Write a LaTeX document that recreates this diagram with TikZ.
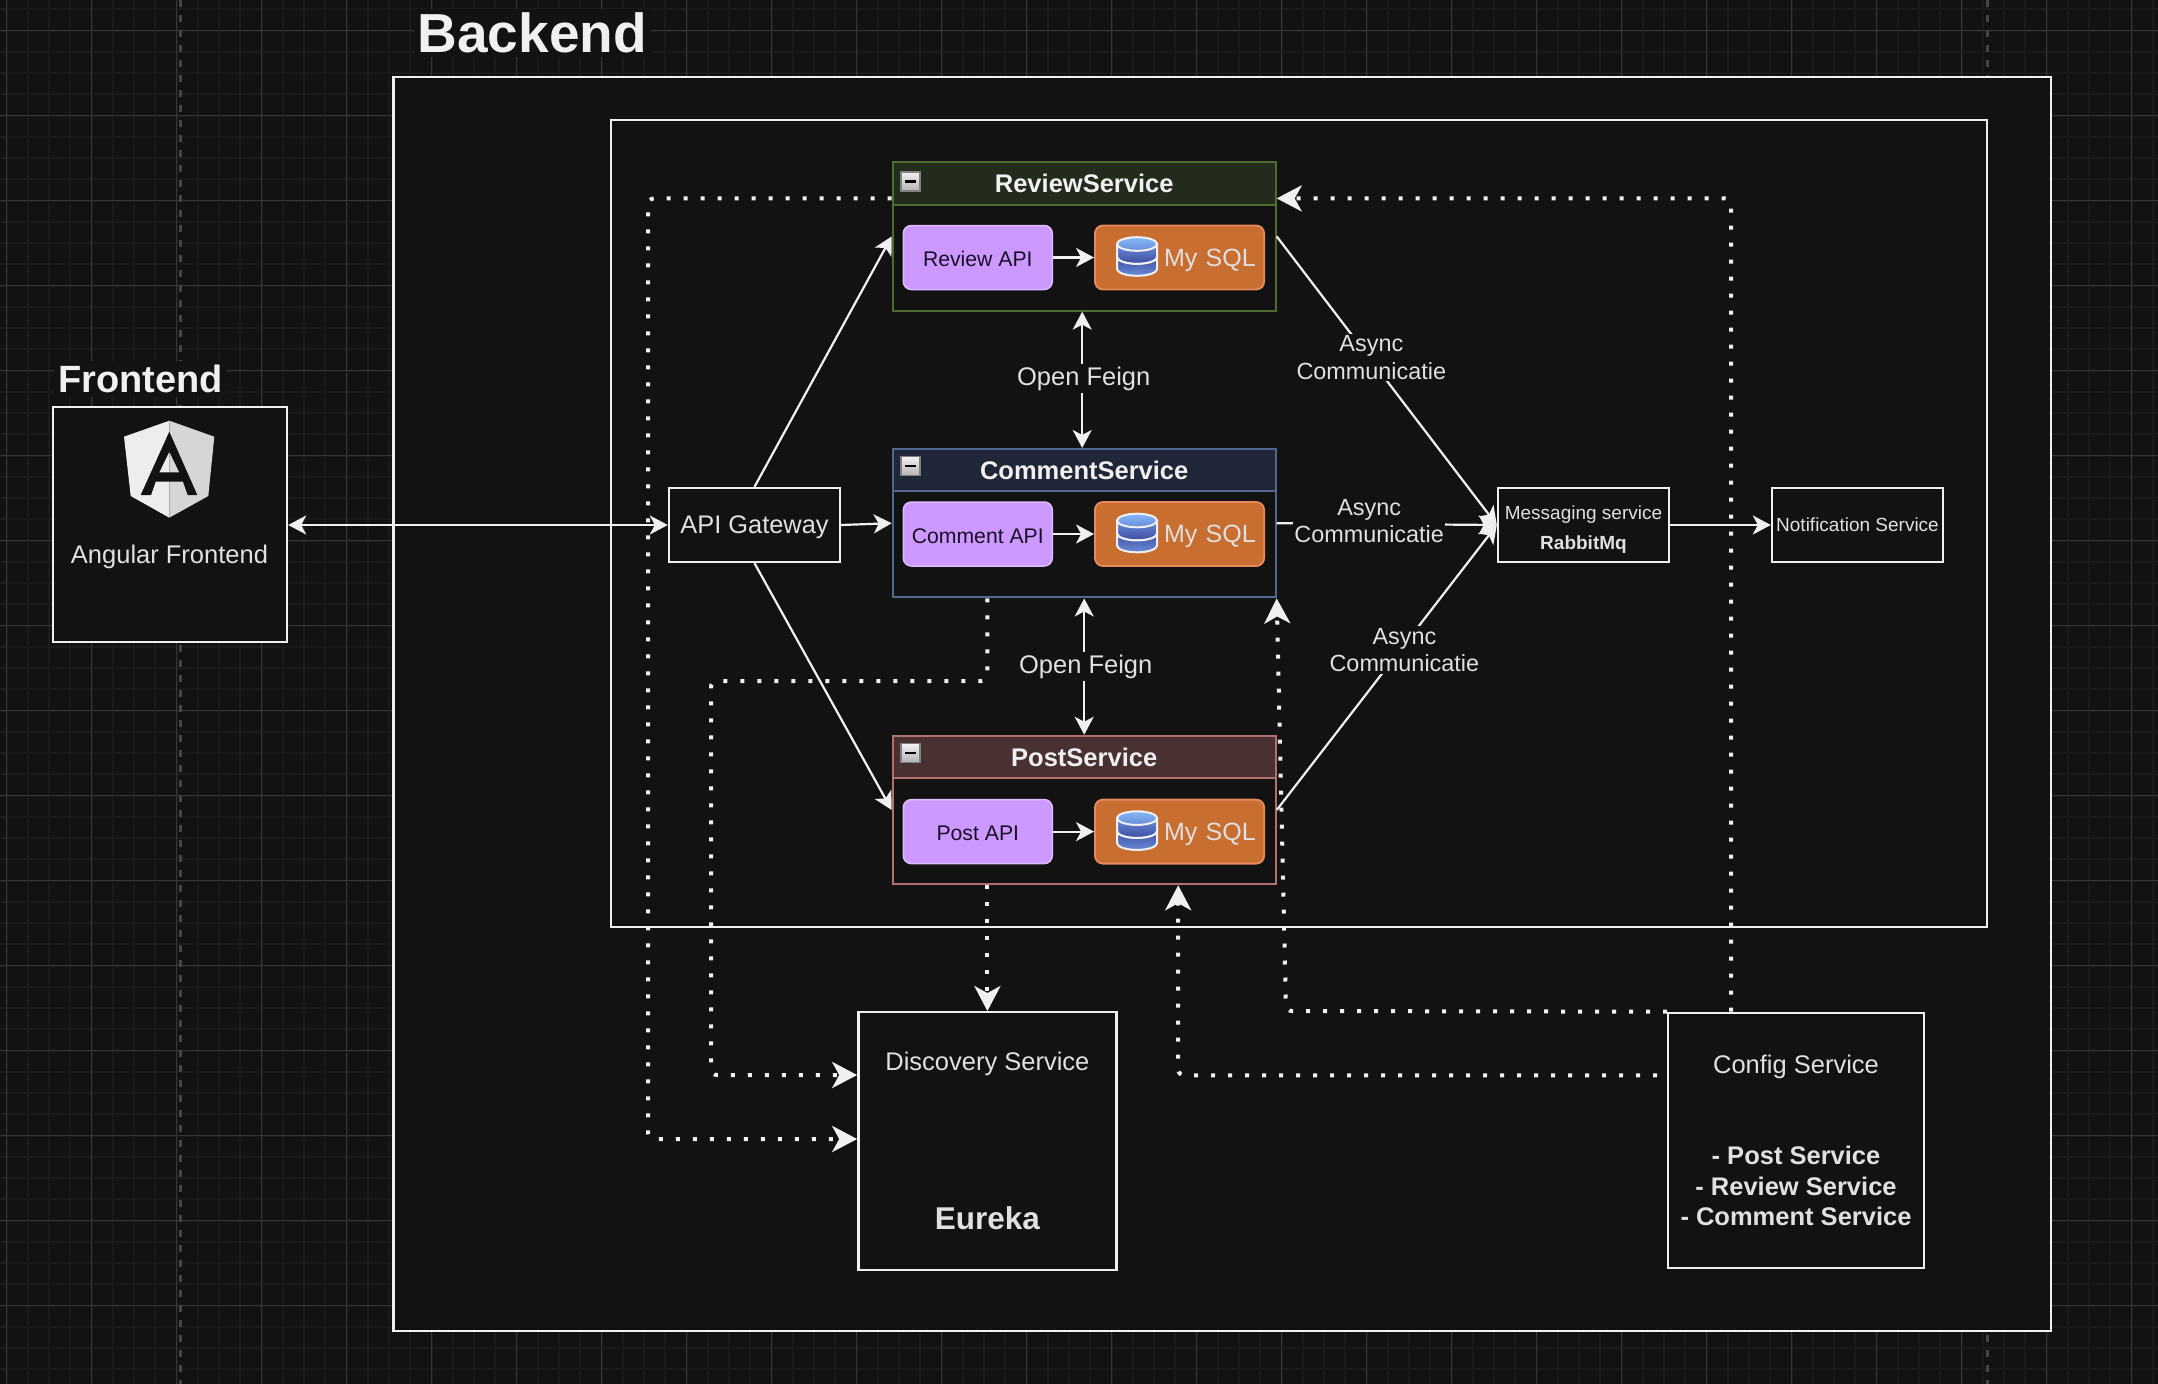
\documentclass[tikz,border=0pt]{standalone}
\usepackage{fontspec}
\setmainfont{Liberation Sans}
\usetikzlibrary{arrows.meta,positioning}
\definecolor{pagebg}{HTML}{121212}
\definecolor{gridminor}{HTML}{1A1A1A}
\definecolor{gridmajor}{HTML}{363636}
\definecolor{dashline}{HTML}{454545}
\definecolor{ink}{HTML}{F0F0F0}
\definecolor{txt}{HTML}{E0E0E0}
\definecolor{reviewfill}{HTML}{232C1C}
\definecolor{reviewline}{HTML}{4F6B2F}
\definecolor{commentfill}{HTML}{1F2638}
\definecolor{commentline}{HTML}{52678F}
\definecolor{postfill}{HTML}{4A3131}
\definecolor{postline}{HTML}{B0706C}
\definecolor{apifill}{HTML}{CC99FF}
\definecolor{apiline}{HTML}{DDBBFF}
\definecolor{apitxt}{HTML}{1A0F26}
\definecolor{dbfill}{HTML}{C76E30}
\definecolor{dbline}{HTML}{E88A60}
\definecolor{cylsky}{HTML}{84B8F8}
\definecolor{cylmid}{HTML}{6A8CD8}
\definecolor{cyldark}{HTML}{3E4EA2}
\tikzstyle{box}=[rectangle,draw=ink,line width=2.4pt,fill=pagebg,text=txt,align=center,inner sep=0pt,font=\fontsize{25.5}{30.5}\selectfont]
\tikzstyle{smallbox}=[box,minimum width=171pt,minimum height=74pt,font=\fontsize{19}{30}\selectfont]
\tikzstyle{bigtitle}=[fill=pagebg,text=ink,inner sep=4pt,font=\fontsize{38}{40}\selectfont\bfseries]
\tikzstyle{lane}=[rectangle,line width=2pt,fill=pagebg,minimum width=383pt,minimum height=148.5pt]
\tikzstyle{lanehead}=[rectangle,line width=2pt,anchor=north,minimum width=383pt,minimum height=42.5pt,text=ink,font=\fontsize{25.5}{30}\selectfont\bfseries]
\tikzstyle{minusbtn}=[rectangle,draw=gray,line width=1.5pt,top color=white!90!gray,bottom color=gray!60,minimum size=19pt,inner sep=0pt]
\tikzstyle{api}=[rectangle,rounded corners=8pt,draw=apiline,line width=1.5pt,fill=apifill,text=apitxt,minimum width=149pt,minimum height=64pt,inner sep=0pt,text height=18pt,text depth=0pt,font=\fontsize{21.2}{25}\selectfont]
\tikzstyle{db}=[rectangle,rounded corners=8pt,draw=dbline,line width=1.8pt,fill=dbfill,text=txt,minimum height=64pt,text width=152.4pt,inner xsep=8.4pt,inner ysep=0pt,text depth=0pt,align=right,font=\fontsize{25}{30}\selectfont]
\tikzstyle{arr}=[-{Stealth[length=18pt,width=19pt,inset=5pt]},line width=2.2pt,draw=ink]
\tikzstyle{darr}=[{Stealth[length=18pt,width=19pt,inset=5pt]}-{Stealth[length=18pt,width=19pt,inset=5pt]},line width=2.2pt,draw=ink]
\tikzstyle{dotarr}=[-{Stealth[length=25pt,width=26pt,inset=7pt]},draw=ink,line width=4pt,dash pattern=on 4pt off 13pt,rounded corners=6pt]
\tikzstyle{feign}=[fill=pagebg,text=txt,inner sep=3pt,xshift=1.5pt,font=\fontsize{25.5}{30}\selectfont]
\tikzstyle{async}=[fill=pagebg,text=txt,inner xsep=1pt,inner ysep=2pt,align=center,font=\fontsize{23.4}{27.5}\selectfont]
\tikzset{dbicon/.pic={
  \path[draw=ink,line width=2pt,top color=cylmid,bottom color=cyldark] (-20,-12.5) -- (-20,0.6) arc[start angle=180,end angle=360,x radius=20pt,y radius=6.8pt] -- (20,-12.5) -- cycle;
  \path[draw=ink,line width=2pt,top color=cyldark,bottom color=cylmid] (-20,0.6) arc[start angle=180,end angle=360,x radius=20pt,y radius=6.8pt] -- (20,12.5) arc[start angle=360,end angle=180,x radius=20pt,y radius=6.8pt] -- cycle;
  \path[draw=ink,line width=2pt,top color=cylsky,bottom color=cylmid] (0,-12.5) ellipse[x radius=20pt,y radius=6.8pt];
}}

\begin{document}
\begin{tikzpicture}[x=1pt,y=-1pt]
\useasboundingbox (0,0) rectangle (2158,1384);
\fill[pagebg] (0,0) rectangle (2158,1384);
\draw[gridminor,line width=2pt,shift={(6.5,30.7)},step=21.25pt] (-6.5,1353.3) grid (2151.5,-30.7);
\draw[gridmajor,line width=1.3pt,shift={(6.5,30.7)},step=85pt] (-6.5,1353.3) grid (2151.5,-30.7);
\draw[dashline,line width=3pt,dash pattern=on 7pt off 8pt] (180,0) -- (180,1384);
\draw[dashline,line width=3pt,dash pattern=on 7pt off 8pt] (1987.6,0) -- (1987.6,1384);

\node[box,minimum width=234pt,minimum height=235pt] (angular) at (170,524.4) {};
\node[bigtitle] (fronttitle) at (140.5,379) {Frontend};
\fill[white!93!black] (169.3,420.7) -- (124,436.7) -- (130.7,496) -- (169.3,517.7) -- cycle;
\fill[white!84!black] (169.3,420.7) -- (214.3,436.7) -- (208.3,496) -- (169.3,517.7) -- cycle;
\fill[pagebg,even odd rule] (169.3,431.7) -- (197.3,495) -- (187.7,495) -- (183,481.7) -- (155.7,481.7) -- (151,495) -- (140.7,495) -- cycle (169.3,451.7) -- (159.3,472.3) -- (179.3,472.3) -- cycle;
\node[text=txt,font=\fontsize{25.5}{30}\selectfont] (angulartxt) at (169.5,556.5) {Angular Frontend};

\node[box,minimum width=1657.5pt,minimum height=1254pt] (backend) at (1222.3,704) {};
\node[bigtitle,font=\fontsize{55}{60}\selectfont\bfseries] (backtitle) at (532.3,33) {Backend};
\node[box,minimum width=1376pt,minimum height=807.5pt] (cluster) at (1299,523.5) {};

\node[lane,draw=reviewline] (review) at (1084.2,236.4) {};
\node[lanehead,draw=reviewline,fill=reviewfill] (reviewhead) at (review.north) {ReviewService};
\node[minusbtn] (reviewmin) at ([xshift=19pt,yshift=2pt]reviewhead.west) {\rule{11pt}{2.5pt}};
\node[api] (reviewapi) at (977.8,257.5) {Review API};
\node[db,right=41pt of reviewapi] (reviewdb) {My SQL};
\pic at ([xshift=43pt,yshift=1pt]reviewdb.west) {dbicon};

\node[lane,draw=commentline] (comment) at (1084.2,523.2) {};
\node[lanehead,draw=commentline,fill=commentfill] (commenthead) at (comment.north) {CommentService};
\node[minusbtn] (commentmin) at ([xshift=19pt,yshift=4pt]commenthead.west) {\rule{11pt}{2.5pt}};
\node[api] (commentapi) at (977.8,534) {Comment API};
\node[db,right=41pt of commentapi] (commentdb) {My SQL};
\pic at ([xshift=43pt,yshift=1pt]commentdb.west) {dbicon};

\node[lane,draw=postline] (post) at (1084.2,810) {};
\node[lanehead,draw=postline,fill=postfill] (posthead) at (post.north) {PostService};
\node[minusbtn] (postmin) at ([xshift=19pt,yshift=4pt]posthead.west) {\rule{11pt}{2.5pt}};
\node[api] (postapi) at (977.8,831.6) {Post API};
\node[db,right=41pt of postapi] (postdb) {My SQL};
\pic at ([xshift=43pt,yshift=1pt]postdb.west) {dbicon};

\node[smallbox,font=\fontsize{25.4}{30}\selectfont,text depth=0pt] (gateway) at (754.5,525) {API Gateway};
\node[smallbox,text depth=0pt] (messaging) at (1583.5,525) {\rule{0pt}{19.4pt}Messaging service\\{\bfseries RabbitMq}};
\node[smallbox,font=\fontsize{19}{22}\selectfont] (notify) at (1857.5,525) {Notification Service};
\node[box,minimum width=258pt,minimum height=257.5pt] (discovery) at (987.4,1141) {Discovery Service\\[129pt]{\fontsize{31.5}{36}\selectfont\bfseries Eureka}};
\node[box,minimum width=255.5pt,minimum height=255pt] (config) at (1796,1140.4) {Config Service\\[61pt]{\bfseries - Post Service}\\{\bfseries - Review Service}\\{\bfseries - Comment Service}};

\coordinate (leftbus) at (648,1139);
\coordinate (midbus) at (711,681);
\coordinate (cfgbend) at (1286,1011);

\draw[darr] (angular.east |- gateway.west) -- (gateway.west);
\draw[arr] (gateway.north) -- (review.west);
\draw[arr] (gateway.east) -- (comment.west);
\draw[arr] (gateway.south) -- (post.west);
\draw[arr] (reviewapi) -- (reviewdb);
\draw[arr] (commentapi) -- (commentdb);
\draw[arr] (postapi) -- (postdb);
\draw[darr] ([xshift=-2pt]review.south) -- node[feign,pos=.49] {Open Feign} ([xshift=-2pt]comment.north);
\draw[darr] (comment.south) -- node[feign,pos=.5] {Open Feign} (post.north);
\draw[arr] (review.east) -- node[async,pos=.43,yshift=3pt] {Async\\Communicatie} (messaging.west);
\draw[arr] (comment.east) -- node[async,pos=.42,yshift=3pt] {Async\\Communicatie} (messaging.west);
\draw[arr] (post.east) -- node[async,pos=.58,yshift=-5.5pt] {Async\\Communicatie} (messaging.west);
\draw[arr] (messaging.east) -- (notify.west);

\draw[dotarr] ([yshift=-15pt]reviewhead.west) -| (leftbus) -- (leftbus -| discovery.west);
\draw[dotarr] (comment.south -| discovery.north) |- (midbus) |- ([yshift=66pt]discovery.west);
\draw[dotarr] (post.south -| discovery.north) -- (discovery.north);
\draw[dotarr] ([xshift=-65pt]config.north) |- ([yshift=-15pt]reviewhead.east);
\draw[dotarr] ([xshift=-10pt,yshift=65pt]config.west) -| ([xshift=94pt]post.south);
\draw[dotarr] (config.north west) -- (cfgbend) -- (comment.south east);
\end{tikzpicture}
\end{document}
